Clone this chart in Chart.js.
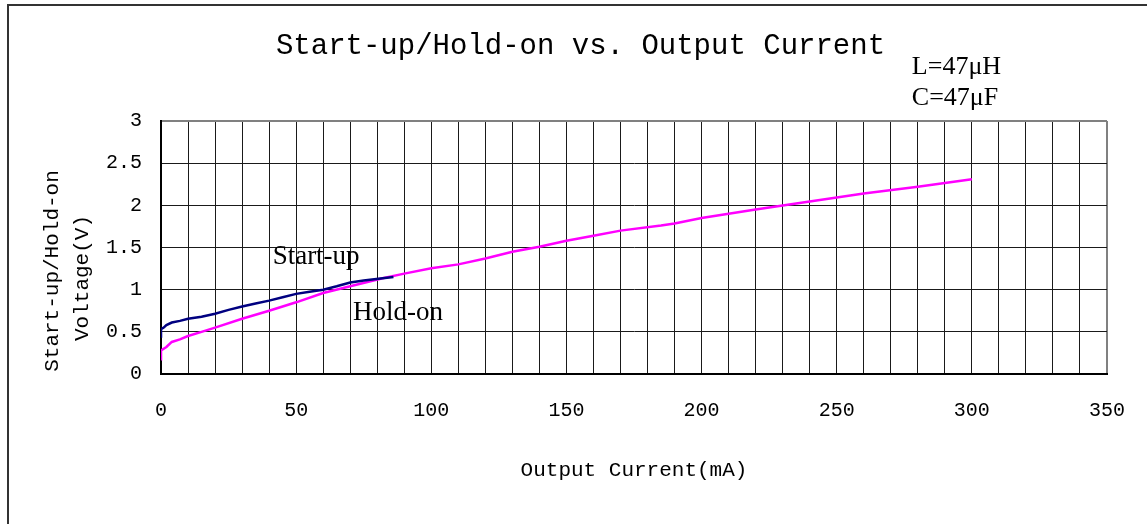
<!DOCTYPE html>
<html lang="en">
<head>
<meta charset="UTF-8" />
<title>Start-up/Hold-on vs. Output Current</title>
<script src="https://cdn.jsdelivr.net/npm/chart.js@4.4.1/dist/chart.umd.min.js"></script>
<style>
  html, body { margin: 0; padding: 0; background: #fff; }
  .chart-view { position: relative; width: 1147px; height: 524px; }
</style>
</head>
<body>
<div class="chart-view"><canvas id="chart"></canvas></div>
<script>
  //data
  const startupCurrent = [0, 0, 1, 2, 4, 7, 10, 15, 20, 25, 30, 35, 40, 45, 50, 55, 60, 65, 70, 75, 82, 86];
  const startupVoltage = [0.43, 0.53, 0.55, 0.58, 0.61, 0.63, 0.655, 0.68, 0.715, 0.76, 0.80, 0.835, 0.87, 0.91, 0.95, 0.975, 1.0, 1.04, 1.085, 1.11, 1.135, 1.15];
  const holdonCurrent = [0, 0, 2, 4, 7, 10, 15, 20, 30, 40, 50, 60, 70, 82, 90, 100, 110, 120, 130, 140, 150, 160, 170, 185, 190, 200, 220, 240, 260, 280, 300];
  const holdonVoltage = [0.16, 0.28, 0.32, 0.38, 0.41, 0.45, 0.50, 0.55, 0.655, 0.75, 0.85, 0.96, 1.04, 1.135, 1.19, 1.255, 1.30, 1.37, 1.45, 1.51, 1.58, 1.64, 1.70, 1.76, 1.785, 1.85, 1.95, 2.045, 2.14, 2.22, 2.31];
  const xTickLabels = [0, 50, 100, 150, 200, 250, 300, 350];
  const yTickLabels = [0, 0.5, 1, 1.5, 2, 2.5, 3];

  const MONO = "'Liberation Mono', 'DejaVu Sans Mono', monospace";
  const SERIF = "'Liberation Serif', 'DejaVu Serif', serif";

  // text notes placed in data units (x = mA, y = V, left/baseline)
  const notes = [
    { text: 'Start-up', x: 41.3, y: 1.30, size: 27 },
    { text: 'Hold-on', x: 71.0, y: 0.64, size: 27 },
    { text: 'L=47\u03bcH', x: 277.8, y: 3.555, size: 26 },
    { text: 'C=47\u03bcF', x: 277.8, y: 3.19, size: 26 }
  ];

  const toPoints = (xs, ys) => xs.map((x, i) => ({ x: x, y: ys[i] }));

  const frame = {
    id: 'frame',
    beforeDraw(chart) {
      const c = chart.ctx;
      c.save();
      c.fillStyle = '#fff';
      c.fillRect(0, 0, chart.width, chart.height);
      c.strokeStyle = '#333';
      c.lineWidth = 2;
      c.beginPath();
      c.moveTo(8, chart.height);
      c.lineTo(8, 5);
      c.lineTo(chart.width, 5);
      c.stroke();
      c.restore();
    },
    afterDraw(chart) {
      const c = chart.ctx;
      const xs = chart.scales.x;
      const ys = chart.scales.y;
      c.save();
      c.fillStyle = '#000';
      // y axis title, two lines rotated
      c.font = '21px ' + MONO;
      c.textAlign = 'center';
      c.textBaseline = 'middle';
      [['Start-up/Hold-on', 52, 271], ['Voltage(V)', 82, 278]].forEach(([t, cx, cy]) => {
        c.save();
        c.translate(cx, cy);
        c.rotate(-Math.PI / 2);
        c.fillText(t, 0, 0);
        c.restore();
      });
      // notes
      c.textAlign = 'left';
      c.textBaseline = 'alphabetic';
      notes.forEach(n => {
        c.font = n.size + 'px ' + SERIF;
        c.fillText(n.text, xs.getPixelForValue(n.x), ys.getPixelForValue(n.y));
      });
      c.restore();
    }
  };

  //config
  const config = {
    type: 'line',
    data: {
      datasets: [
        {
          label: 'Start-up',
          data: toPoints(startupCurrent, startupVoltage),
          borderColor: '#000080',
          borderWidth: 2.5,
          pointRadius: 0,
          tension: 0
        },
        {
          label: 'Hold-on',
          data: toPoints(holdonCurrent, holdonVoltage),
          borderColor: '#ff00ff',
          borderWidth: 2.5,
          pointRadius: 0,
          tension: 0
        }
      ]
    },
    options: {
      responsive: false,
      animation: false,
      layout: { padding: { left: 54, right: 40, top: 0, bottom: 0 } },
      scales: {
        x: {
          type: 'linear',
          min: 0,
          max: 350,
          afterFit(scale) {
            scale.height = 150;
            scale.paddingLeft = 0;
            scale.paddingRight = 0;
          },
          ticks: {
            stepSize: 10,
            autoSkip: false,
            maxRotation: 0,
            padding: 25,
            color: '#000',
            font: { family: MONO, size: 20 },
            callback: v => xTickLabels.includes(v) ? String(v) : ''
          },
          grid: {
            drawTicks: false,
            color: ctx => (ctx.tick && ctx.tick.value === 350) ? '#808080' : '#1a1a1a',
            lineWidth: ctx => (ctx.tick && ctx.tick.value === 350) ? 2 : 1
          },
          border: { display: true, color: '#000', width: 2 },
          title: {
            display: true,
            text: 'Output Current(mA)',
            color: '#000',
            font: { family: MONO, size: 21, lineHeight: 30 / 21 },
            padding: { top: 0, bottom: 39 }
          }
        },
        y: {
          min: 0,
          max: 3,
          afterFit(scale) {
            scale.width = 107;
            scale.paddingTop = 0;
            scale.paddingBottom = 0;
          },
          ticks: {
            stepSize: 0.5,
            padding: 19,
            color: '#000',
            font: { family: MONO, size: 20 },
            callback: v => yTickLabels.includes(v) ? String(v) : ''
          },
          grid: {
            drawTicks: false,
            color: ctx => (ctx.tick && ctx.tick.value === 3) ? '#808080' : '#1a1a1a',
            lineWidth: ctx => (ctx.tick && ctx.tick.value === 3) ? 2 : 1
          },
          border: { display: true, color: '#000', width: 2 }
        }
      },
      plugins: {
        legend: { display: false },
        tooltip: { enabled: false },
        title: {
          display: true,
          text: 'Start-up/Hold-on vs. Output Current',
          color: '#000',
          font: { family: MONO, size: 29, weight: 'normal', lineHeight: 1.2 },
          padding: { top: 29, bottom: 57.2 }
        }
      }
    },
    plugins: [frame]
  };

  //init
  const ctx = document.getElementById('chart');
  ctx.width = 1147;
  ctx.height = 524;
  const chart = new Chart(ctx, config);
</script>
</body>
</html>
